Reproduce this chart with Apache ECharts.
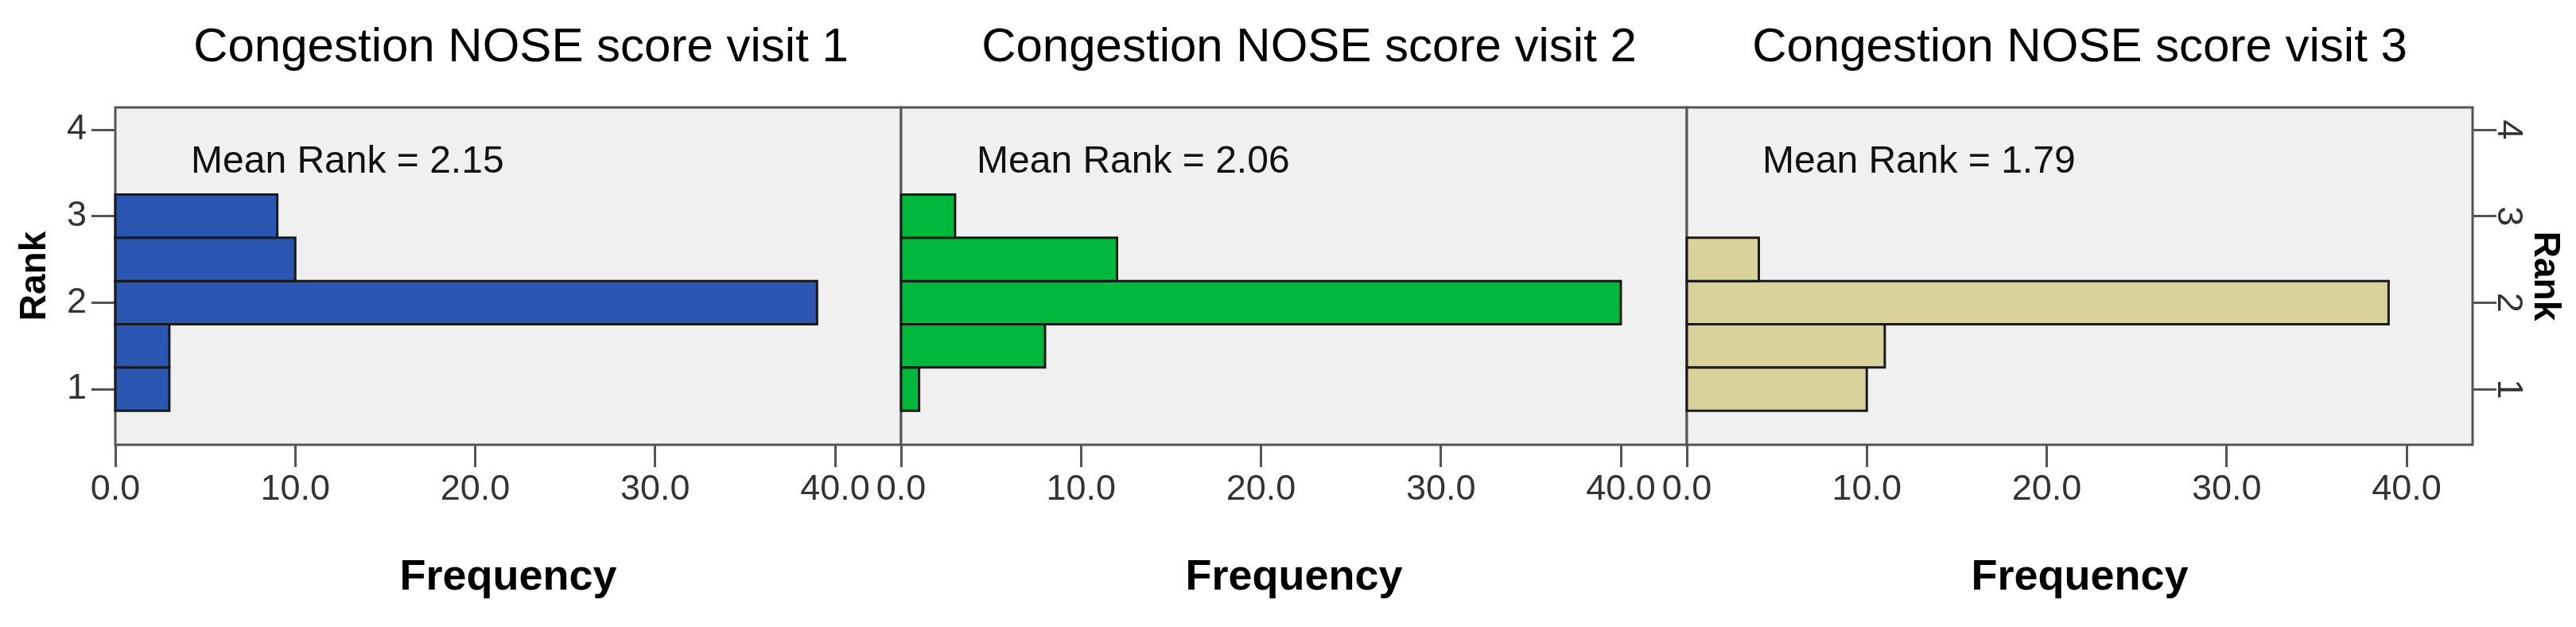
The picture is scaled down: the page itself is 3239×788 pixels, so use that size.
<!DOCTYPE html>
<html>
<head>
<meta charset="utf-8">
<script src="https://cdn.jsdelivr.net/npm/echarts@6/dist/echarts.min.js"></script>
<style>
  html, body { margin: 0; padding: 0; background: #fff; }
  #chart { width: 3239px; height: 788px; }
</style>
</head>
<body>
<div id="chart"></div>
<script>
  // rank bins (mid-ranks) and frequencies per visit
  const ranks = [1, 1.5, 2, 2.5, 3];
  const visit1 = [3, 3, 39, 10, 9];
  const visit2 = [1, 8, 40, 12, 3];
  const visit3 = [10, 11, 39, 4, 0];
  const panelTitles = ['Congestion NOSE score visit 1', 'Congestion NOSE score visit 2', 'Congestion NOSE score visit 3'];
  const meanRanks = ['2.15', '2.06', '1.79'];
  const barColors = ['#2b56b1', '#00b83b', '#d8d29b'];
  const freqTicks = [0, 10, 20, 30, 40];
  const rankTicks = [1, 2, 3, 4];

  const FONT = '"Liberation Sans", Arial, sans-serif';
  const panelLeft = [145, 1133, 2121];
  const panelW = 988;
  const titleX = [655, 1646, 2615];

  let myChart = echarts.init(document.getElementById('chart'));

  const allVisits = [visit1, visit2, visit3];
  const grids = [], xAxes = [], yAxes = [], series = [], graphics = [];

  allVisits.forEach(function (counts, i) {
    grids.push({
      left: panelLeft[i], width: panelW, top: 135, height: 424,
      show: true, backgroundColor: '#f0f0f0', borderColor: '#555', borderWidth: 3
    });
    xAxes.push({
      type: 'value', gridIndex: i, min: 0, max: 43.67,
      name: 'Frequency', nameLocation: 'middle', nameGap: 140,
      nameTextStyle: { fontFamily: FONT, fontSize: 54, fontWeight: 'bold', color: '#000' },
      splitLine: { show: false },
      axisLine: { show: false, onZero: false },
      axisTick: { show: true, length: 28, customValues: freqTicks, lineStyle: { color: '#555', width: 3 } },
      axisLabel: {
        customValues: freqTicks, margin: 34, fontFamily: FONT, fontSize: 45, color: '#333',
        formatter: function (v) { return v.toFixed(1); }
      }
    });
    let y = {
      type: 'value', gridIndex: i, min: 0.356, max: 4.258,
      splitLine: { show: false },
      axisLine: { show: false, onZero: false },
      axisTick: { show: false },
      axisLabel: { show: false }
    };
    if (i === 0 || i === 2) {
      y.position = i === 0 ? 'left' : 'right';
      y.name = 'Rank';
      y.nameLocation = 'middle';
      y.nameGap = i === 0 ? 78 : 62;
      y.nameRotate = i === 0 ? 90 : -90;
      y.nameTextStyle = { fontFamily: FONT, fontSize: 46, fontWeight: 'bold', color: '#000' };
      y.axisTick = { show: true, length: 30, customValues: rankTicks, lineStyle: { color: '#555', width: 3 } };
      y.axisLabel = {
        show: true, customValues: rankTicks, margin: i === 0 ? 36 : 22,
        rotate: i === 0 ? 0 : -90,
        fontFamily: FONT, fontSize: 45, color: '#333'
      };
    }
    yAxes.push(y);

    const color = barColors[i];
    series.push({
      type: 'custom',
      xAxisIndex: i, yAxisIndex: i,
      data: counts.map(function (c, k) { return [c, ranks[k]]; }),
      renderItem: function (params, api) {
        const c = api.value(0), r = api.value(1);
        if (!c) return;
        const p0 = api.coord([0, r + 0.25]);
        const p1 = api.coord([c, r - 0.25]);
        return {
          type: 'rect',
          shape: { x: p0[0], y: p0[1], width: p1[0] - p0[0], height: p1[1] - p0[1] },
          style: { fill: color, stroke: '#1a1a1a', lineWidth: 3 }
        };
      }
    });

    graphics.push({
      type: 'text', x: titleX[i], y: 60,
      style: { text: panelTitles[i], font: '60px ' + FONT, fill: '#000', align: 'center', verticalAlign: 'middle' }
    });
    graphics.push({
      type: 'text', x: panelLeft[i] + 95, y: 204,
      style: { text: 'Mean Rank = ' + meanRanks[i], font: '48px ' + FONT, fill: '#111', align: 'left', verticalAlign: 'middle' }
    });
  });

  myChart.setOption({
    animation: false,
    grid: grids,
    xAxis: xAxes,
    yAxis: yAxes,
    series: series,
    graphic: graphics
  });
</script>
</body>
</html>
